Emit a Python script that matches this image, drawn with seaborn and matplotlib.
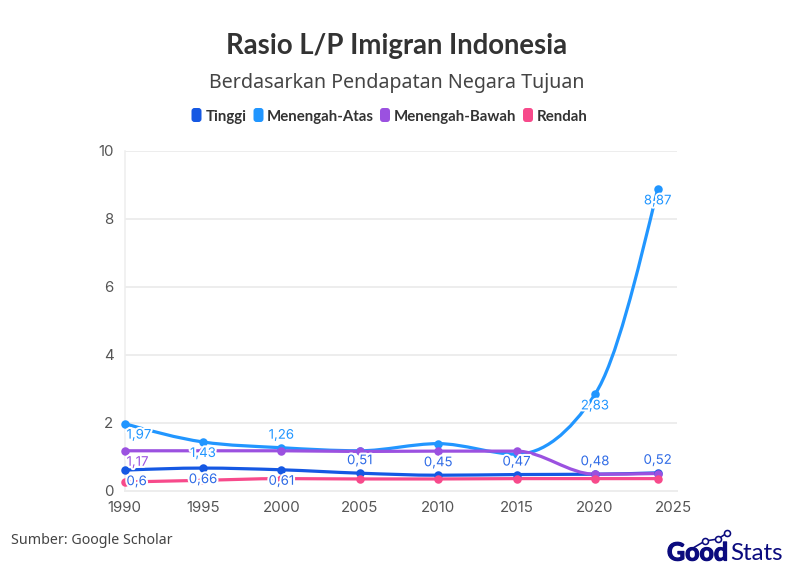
import numpy as np
import pandas as pd
import matplotlib
matplotlib.use("Agg")
import matplotlib.pyplot as plt
import matplotlib.patheffects as pe
from matplotlib.path import Path
from matplotlib.patches import PathPatch, FancyBboxPatch
from matplotlib.lines import Line2D
import seaborn as sns

#data
years = [1990, 1995, 2000, 2005, 2010, 2015, 2020, 2024]
tinggi = [0.60, 0.66, 0.61, 0.51, 0.45, 0.47, 0.48, 0.52]
atas = [1.97, 1.43, 1.26, 1.17, 1.38, 1.07, 2.83, 8.87]
bawah = [1.17, 1.17, 1.17, 1.15, 1.16, 1.16, 0.48, 0.50]
rendah = [0.25, 0.30, 0.35, 0.34, 0.34, 0.35, 0.35, 0.35]

series_names = ["Tinggi", "Menengah-Atas", "Menengah-Bawah", "Rendah"]
series_values = [tinggi, atas, bawah, rendah]
colors = ["#1558E3", "#2196FF", "#9B51E0", "#F74A8B"]

# labels shown in the chart: (series index, point index, text, side)
labels = [
    (2, 0, "1,17", "below"),
    (1, 0, "1,97", "below"),
    (1, 1, "1,43", "below"),
    (1, 2, "1,26", "above"),
    (1, 6, "2,83", "below"),
    (1, 7, "8,87", "below"),
    (0, 0, "0,6", "below"),
    (0, 1, "0,66", "below"),
    (0, 2, "0,61", "below"),
    (0, 3, "0,51", "above"),
    (0, 4, "0,45", "above"),
    (0, 5, "0,47", "above"),
    (0, 6, "0,48", "above"),
    (0, 7, "0,52", "above"),
]

df = pd.DataFrame({
    "tahun": years * 4,
    "rasio": tinggi + atas + bawah + rendah,
    "kelompok": [n for n in series_names for _ in years],
})

W, H = 794, 575
TEXT = "#333333"
sns.set_theme(style="white")
plt.rcParams["font.family"] = ["Inter", "DejaVu Sans"]
HEAD = ["Lato", "DejaVu Sans"]
BODY = ["Noto Sans", "DejaVu Sans"]

def px(v):
    return v * 0.72

fig = plt.figure(figsize=(W / 100, H / 100), dpi=100)
ax = fig.add_axes([124.5 / W, 1 - 490.5 / H, (677 - 124.5) / W, (490.5 - 151) / H])

#monotone curves through the data points
def monotone_path(x, y):
    x = np.array(x, dtype=float)
    y = np.array(y, dtype=float)
    h = np.diff(x)
    s = np.diff(y) / h
    t = np.zeros(len(x))
    for i in range(1, len(x) - 1):
        p = (s[i - 1] * h[i] + s[i] * h[i - 1]) / (h[i - 1] + h[i])
        t[i] = (np.sign(s[i - 1]) + np.sign(s[i])) * min(abs(s[i - 1]), abs(s[i]), 0.5 * abs(p))
    t[0] = (3 * s[0] - t[1]) / 2
    t[-1] = (3 * s[-1] - t[-2]) / 2
    verts = [(x[0], y[0])]
    codes = [Path.MOVETO]
    for i in range(len(x) - 1):
        d = h[i] / 3
        verts += [(x[i] + d, y[i] + d * t[i]), (x[i + 1] - d, y[i + 1] - d * t[i + 1]), (x[i + 1], y[i + 1])]
        codes += [Path.CURVE4] * 3
    return Path(verts, codes)

for z, (vals, col) in enumerate(zip(series_values, colors)):
    ax.add_patch(PathPatch(monotone_path(years, vals), fc="none", ec=col, lw=px(3.2),
                           capstyle="round", clip_on=False, zorder=3 + z))

sns.lineplot(data=df, x="tahun", y="rasio", hue="kelompok", hue_order=series_names,
             palette=colors, marker="o", markersize=px(8.5), markeredgewidth=0,
             linewidth=0, errorbar=None, sort=False, legend=False, ax=ax, zorder=8,
             clip_on=False)

#axes
ax.set_xlim(1990, 1990 + (677 - 124.5) / 15.68)
ax.set_ylim(0, 10)
ax.set_xticks(range(1990, 2030, 5))
ax.set_yticks(range(0, 12, 2))
ax.set_xlabel("")
ax.set_ylabel("")
ax.grid(axis="y", color="#EDEDED", lw=px(2))
ax.set_axisbelow(True)
for s in ["top", "right"]:
    ax.spines[s].set_visible(False)
ax.spines["left"].set_color("#EDEDED")
ax.spines["left"].set_linewidth(px(1.5))
ax.spines["bottom"].set_color("#EDEDED")
ax.spines["bottom"].set_linewidth(px(2))
ax.tick_params(axis="x", length=0, labelsize=px(15), labelcolor="#555555", pad=px(10))
ax.tick_params(axis="y", length=0, labelsize=px(15), labelcolor="#555555", pad=px(11))

#value labels
for si, pi, txt, side in labels:
    dy = -12 if side == "below" else 12
    col = colors[si]
    if si == 0:
        col = "#2F6BE6"
    # first column is pushed right so the label stays inside the plot
    dx, ha = (2, "left") if pi == 0 else (0, "center")
    ax.annotate(txt, (years[pi], series_values[si][pi]), xytext=(px(dx), px(dy)),
                textcoords="offset points", ha=ha, va="center", fontsize=px(13.2),
                color=col, zorder=12, annotation_clip=False,
                path_effects=[pe.withStroke(linewidth=px(4), foreground="white")])

#title
fig.text(397 / W, 1 - 46 / H, "Rasio L/P Imigran Indonesia", ha="center", va="center",
         fontsize=px(27.5), fontweight="bold", color=TEXT, family=HEAD)
fig.text(397 / W, 1 - 83 / H, "Berdasarkan Pendapatan Negara Tujuan", ha="center", va="center",
         fontsize=px(19.6), color="#444444", family=BODY)

#legend
swatch_x = [191.5, 253.5, 380, 523]
text_x = [206, 267, 394, 537]
for name, col, sx, tx in zip(series_names, colors, swatch_x, text_x):
    fig.add_artist(FancyBboxPatch((sx + 2, H - 122 + 2), 6, 10, boxstyle="round,pad=2,rounding_size=3",
                                  fc=col, ec="none", transform=None))
    fig.text(tx / W, 1 - 117 / H, name, ha="left", va="center", fontsize=px(15),
             fontweight="bold", color=TEXT, family=HEAD)

#source
fig.text(11 / W, 1 - 541 / H, "Sumber: Google Scholar", ha="left", va="center",
         fontsize=px(14.2), color="#444444", family=BODY)

#logo
NAVY = "#0B0B7E"
fig.text(667 / W, 1 - 553 / H, "Good", ha="left", va="center", fontsize=px(25),
         fontweight="bold", color=NAVY, family=HEAD,
         path_effects=[pe.withStroke(linewidth=px(1.2), foreground=NAVY)])
fig.text(730 / W, 1 - 553 / H, "Stats", ha="left", va="center", fontsize=px(24),
         color=NAVY, family=HEAD)
fig.add_artist(Line2D([693 / W, 705 / W, 718 / W, 727 / W],
                      [1 - 548 / H, 1 - 541 / H, 1 - 539 / H, 1 - 533 / H],
                      color=NAVY, lw=px(1.6), marker="o", markersize=px(6), mfc="white",
                      mec=NAVY, mew=px(1.6), markevery=[1, 2, 3], transform=fig.transFigure))

fig.savefig("out.png", dpi=100)
